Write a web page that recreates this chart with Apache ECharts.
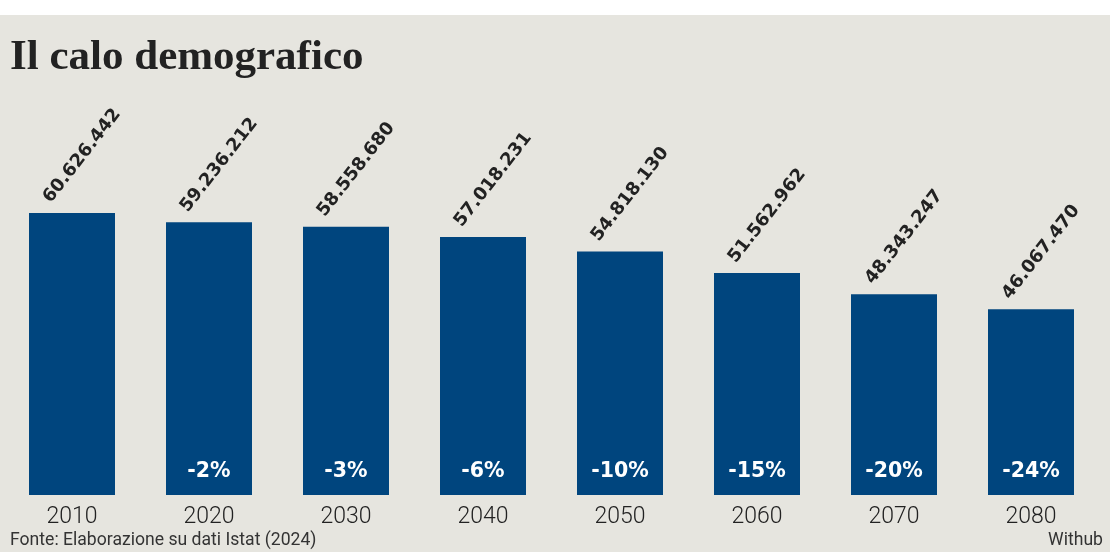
<!DOCTYPE html>
<html>
<head>
<meta charset="utf-8">
<script src="https://cdn.jsdelivr.net/npm/echarts@6/dist/echarts.min.js"></script>
<style>
html,body{margin:0;padding:0;background:#fff;}
#chart{width:1110px;height:552px;}
</style>
</head>
<body>
<div id="chart"></div>
<script>
const years = ['2010','2020','2030','2040','2050','2060','2070','2080'];
const population = [60626442, 59236212, 58558680, 57018231, 54818130, 51562962, 48343247, 46067470];
const changeLabels = ['', '-2%', '-3%', '-6%', '-10%', '-15%', '-20%', '-24%'];

function fmt(n){
  return String(n).replace(/\B(?=(\d{3})+(?!\d))/g, '.');
}

const chart = echarts.init(document.getElementById('chart'), null, {renderer:'canvas'});
chart.setOption({
  backgroundColor: '#ffffff',
  animation: false,
  graphic: [
    {type:'rect', left:0, top:15, shape:{width:1110, height:537}, style:{fill:'#e6e5df'}, z:-10},
    {type:'text', left:10, top:36, style:{text:'Il calo demografico', font:'bold 43px "Liberation Serif"', fill:'#222222'}},
    {type:'text', left:10, top:532, style:{text:'Fonte: Elaborazione su dati Istat (2024)', font:'17.6px Roboto', fill:'#333333'}},
    {type:'text', right:7, top:532, style:{text:'Withub', font:'17.6px Roboto', fill:'#333333'}}
  ],
  grid: {left:3.5, right:10.5, top:151, bottom:57},
  xAxis: {
    type:'category',
    data: years,
    axisLine:{show:false},
    axisTick:{show:false},
    axisLabel:{color:'#222222', fontFamily:'Roboto', fontWeight:300, fontSize:23, margin:11}
  },
  yAxis: {
    type:'value',
    min:18000000,
    max:70000000,
    show:false,
    splitLine:{show:false}
  },
  series: [
    {
      type:'bar',
      data: population,
      barWidth:86,
      itemStyle:{color:'#00457e'},
      label:{
        show:true,
        position:'top',
        distance:15,
        offset:[-17.4,-17.9],
        rotate:52,
        align:'left',
        verticalAlign:'middle',
        formatter: p => fmt(p.value),
        fontFamily:'"DejaVu Sans"',
        fontWeight:'bold',
        fontSize:18,
        color:'#222222'
      }
    },
    {
      type:'bar',
      data: population,
      barWidth:86,
      barGap:'-100%',
      itemStyle:{color:'rgba(0,0,0,0)'},
      label:{
        show:true,
        position:'insideBottom',
        distance:13,
        formatter: p => changeLabels[p.dataIndex],
        fontFamily:'"DejaVu Sans"',
        fontWeight:'bold',
        fontSize:20.5,
        color:'#ffffff'
      }
    }
  ]
});
</script>
</body>
</html>
